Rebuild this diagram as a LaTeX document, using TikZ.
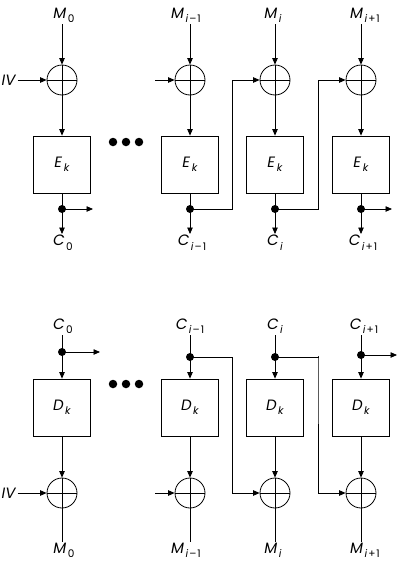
\documentclass[tikz,border=0pt]{standalone}
\usepackage{fontspec}
\setmainfont{Poppins}
\usetikzlibrary{arrows.meta,calc}
\newcommand\lbl[2]{\textit{#1}\kern1.5pt\raisebox{-0.5ex}{\fontsize{10.5}{11}\selectfont #2}}
\newcommand\isub[2]{\textit{i}\kern1pt#1\kern1pt#2}
\begin{document}
\begin{tikzpicture}[x=1pt,y=-1pt,
  line width=0.8pt,
  every node/.style={font=\fontsize{15}{16}\selectfont},
  blk/.style={draw, minimum width=57pt, minimum height=57pt, inner sep=0pt},
  xorn/.style={draw, circle, minimum size=30pt, inner sep=0pt,
    path picture={\draw[line width=0.8pt] (path picture bounding box.north) -- (path picture bounding box.south)
      (path picture bounding box.west) -- (path picture bounding box.east);}},
  jdot/.style={circle, fill, inner sep=0pt, minimum size=8pt},
  edot/.style={circle, fill, inner sep=0pt, minimum size=8.5pt},
  lab/.style={inner sep=1pt},
  arr/.style={-{Triangle[length=6.5pt,width=5.5pt]}}]
\useasboundingbox (0,0) rectangle (400,568);

% ===== Top: encryption =====
\foreach \i/\x in {0/62,1/190,2/275,3/361}{
  \node[xorn] (xt\i) at (\x,80) {};
  \node[blk] (et\i) at (\x,164.5) {\lbl{E}{\textit{k}}};
  \node[jdot] (dt\i) at (\x,209) {};
}
\node[lab,anchor=south] (mt0) at (64,24) {\lbl{M}{0}};
\node[lab,anchor=south] (mt1) at (186,24) {\lbl{M}{\isub{–}{1}}};
\node[lab,anchor=south] (mt2) at (273,24) {\lbl{M}{\textit{i}}};
\node[lab,anchor=south] (mt3) at (365,24) {\lbl{M}{\isub{+}{1}}};
\node[lab,anchor=north] (ct0) at (63,234) {\lbl{C}{0}};
\node[lab,anchor=north] (ct1) at (192,234) {\lbl{C}{\isub{–}{1}}};
\node[lab,anchor=north] (ct2) at (275,234) {\lbl{C}{\textit{i}}};
\node[lab,anchor=north] (ct3) at (363,234) {\lbl{C}{\isub{+}{1}}};
\node[lab] (ivt) at (9,80) {\textit{IV}};
\coordinate (int1) at (155,80);
\coordinate (ot0) at (93,209);
\coordinate (ot3) at (392,209);

\foreach \i in {0,...,3}{
  \draw[arr] (mt\i.south -| xt\i) -- (xt\i);
  \draw[arr] (xt\i) -- (et\i);
  \draw (et\i) -- (dt\i.center);
  \draw[arr] (dt\i.center) -- (ct\i.north -| dt\i);
}
\draw[arr] (ivt) -- (xt0);
\draw[arr] (int1) -- (xt1);
\draw[arr] (dt0.center) -- (ot0);
\draw[arr] (dt3.center) -- (ot3);
\draw[arr] (dt1.center) -| ($(dt1)!.5!(dt2)$) |- (xt2);
\draw[arr] (dt2.center) -| ($(dt2)!.5!(dt3)$) |- (xt3);

\node[edot] (et-a) at (113,142) {};
\node[edot] (et-b) at (126,142) {};
\node[edot] (et-c) at (139,142) {};

% ===== Bottom: decryption =====
\foreach \i/\x/\dy in {0/62/352,1/190/357,2/275/357,3/361/355}{
  \node[xorn] (xb\i) at (\x,493) {};
  \node[blk] (eb\i) at (\x,407.5) {\lbl{D}{\textit{k}}};
  \node[jdot] (db\i) at (\x,\dy) {};
}
\node[lab,anchor=south] (cb0) at (63,335) {\lbl{C}{0}};
\node[lab,anchor=south] (cb1) at (190,335) {\lbl{C}{\isub{–}{1}}};
\node[lab,anchor=south] (cb2) at (275,335) {\lbl{C}{\textit{i}}};
\node[lab,anchor=south] (cb3) at (364,335) {\lbl{C}{\isub{+}{1}}};
\node[lab,anchor=north] (mb0) at (64,542) {\lbl{M}{0}};
\node[lab,anchor=north] (mb1) at (186,542) {\lbl{M}{\isub{–}{1}}};
\node[lab,anchor=north] (mb2) at (273,542) {\lbl{M}{\textit{i}}};
\node[lab,anchor=north] (mb3) at (365,542) {\lbl{M}{\isub{+}{1}}};
\node[lab] (ivb) at (9,493) {\textit{IV}};
\coordinate (inb1) at (155,493);
\coordinate (ob0) at (100,352);
\coordinate (ob3) at (397,355);

\foreach \i in {0,...,3}{
  \draw[arr] (cb\i.south -| eb\i) -- (eb\i);
  \draw[arr] (eb\i) -- (xb\i);
  \draw (xb\i.center) -- (mb\i.north -| xb\i);
}
\draw[arr] (ivb) -- (xb0);
\draw[arr] (inb1) -- (xb1);
\draw[arr] (db0.center) -- (ob0);
\draw[arr] (db3.center) -- (ob3);
\draw[arr] (db1.center) -| ($(db1)!.5!(db2)$) |- (xb2);
\draw[arr] (db2.center) -| ($(db2)!.5!(db3)$) |- (xb3);

\node[edot] (eb-a) at (113,384) {};
\node[edot] (eb-b) at (126,384) {};
\node[edot] (eb-c) at (139,384) {};
\end{tikzpicture}
\end{document}
